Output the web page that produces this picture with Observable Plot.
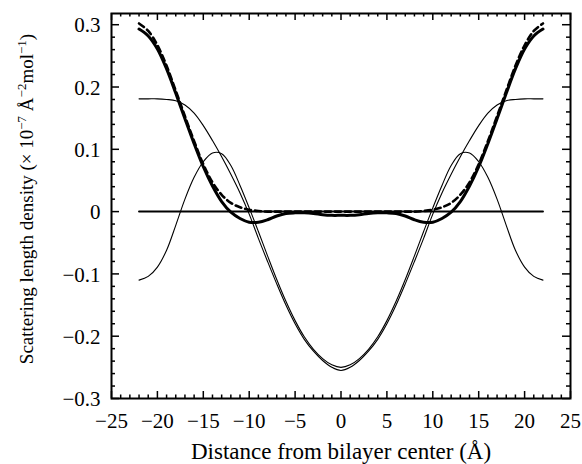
<!DOCTYPE html>
<html><head><meta charset="utf-8">
<script src="https://cdn.jsdelivr.net/npm/d3@7"></script>
<script src="https://cdn.jsdelivr.net/npm/@observablehq/plot@0.6"></script>
<style>html,body{margin:0;padding:0;background:#fff}#chart svg{display:block}</style>
</head><body><div id="chart"></div>
<script>
// ---- data ----
const distance = [-22,-21,-20,-19,-18,-17,-16,-15,-14,-13,-12,-11,-10,-9,-8,-7,-6,-5,-4,-3,-2,-1,0,
  1,2,3,4,5,6,7,8,9,10,11,12,13,14,15,16,17,18,19,20,21,22];
const sldTotal = [0.293,0.282,0.261,0.229,0.190,0.149,0.109,0.072,0.041,0.016,-0.001,-0.011,-0.017,-0.017,-0.013,-0.007,-0.003,-0.002,-0.002,-0.003,-0.005,-0.006,-0.006,
  -0.006,-0.005,-0.003,-0.002,-0.002,-0.003,-0.007,-0.013,-0.017,-0.017,-0.011,-0.001,0.016,0.041,0.072,0.109,0.149,0.190,0.229,0.261,0.282,0.293];
const sldDashed = [0.302,0.290,0.267,0.234,0.194,0.153,0.113,0.076,0.047,0.027,0.014,0.007,0.003,0.001,0,0,0,0,0,0,0,0,0,
  0,0,0,0,0,0,0,0,0.001,0.003,0.007,0.014,0.027,0.047,0.076,0.113,0.153,0.194,0.234,0.267,0.290,0.302];
const sldPlateau = [0.181,0.181,0.181,0.180,0.178,0.171,0.158,0.138,0.114,0.088,0.060,0.030,-0.004,-0.043,-0.080,-0.116,-0.150,-0.180,-0.205,-0.224,-0.239,-0.250,-0.255,
  -0.250,-0.239,-0.224,-0.205,-0.180,-0.150,-0.116,-0.080,-0.043,-0.004,0.030,0.060,0.088,0.114,0.138,0.158,0.171,0.178,0.180,0.181,0.181,0.181];
const sldWave = [-0.110,-0.104,-0.089,-0.062,-0.022,0.020,0.055,0.080,0.094,0.093,0.074,0.042,0.006,-0.032,-0.071,-0.109,-0.144,-0.175,-0.201,-0.221,-0.236,-0.246,-0.250,
  -0.246,-0.236,-0.221,-0.201,-0.175,-0.144,-0.109,-0.071,-0.032,0.006,0.042,0.074,0.093,0.094,0.080,0.055,0.020,-0.022,-0.062,-0.089,-0.104,-0.110];
const zeroLineX = [-22, 22];
const zeroLineY = [0, 0];

const xMajor = [-25,-20,-15,-10,-5,0,5,10,15,20,25];
const xTickLabels = ["\u221225","\u221220","\u221215","\u221210","\u22125","0","5","10","15","20","25"];
const xMinor = [-24,-23,-22,-21,-19,-18,-17,-16,-14,-13,-12,-11,-9,-8,-7,-6,-4,-3,-2,-1,
  1,2,3,4,6,7,8,9,11,12,13,14,16,17,18,19,21,22,23,24];
const yMajor = [-0.3,-0.2,-0.1,0,0.1,0.2,0.3];
const yTickLabels = ["\u22120.3","\u22120.2","\u22120.1","0","0.1","0.2","0.3"];
const yMinor = [-0.28,-0.26,-0.24,-0.22,-0.18,-0.16,-0.14,-0.12,-0.08,-0.06,-0.04,-0.02,
  0.02,0.04,0.06,0.08,0.12,0.14,0.16,0.18,0.22,0.24,0.26,0.28];
const xLabel = "Distance from bilayer center (\u00C5)";
const yLabelParts = [["Scattering length density (\u00D7 10", false], ["\u22127", true], [" \u00C5", false], ["\u22122", true], ["mol", false], ["\u22121", true], [")", false]];

// ---- layout ----
const W = 582, H = 464;
const mL = 111, mR = 12, mT = 13, mB = 66;
const plotW = W - mL - mR, plotH = H - mT - mB;

const rows = (ys) => distance.map((x, i) => ({x, y: ys[i]}));
const zeroRows = zeroLineX.map((x, i) => ({x, y: zeroLineY[i]}));

const svg = Plot.plot({
  width: W, height: H,
  marginLeft: mL, marginRight: mR, marginTop: mT, marginBottom: mB,
  x: {domain: [-25, 25], axis: null},
  y: {domain: [-0.3, 0.318], axis: null},
  style: {fontFamily: "'Liberation Serif', serif", background: "#fff", color: "#000"},
  marks: [
    Plot.line(zeroRows, {x: "x", y: "y", stroke: "#000", strokeWidth: 2}),
    Plot.line(rows(sldPlateau), {x: "x", y: "y", stroke: "#000", strokeWidth: 1.1, curve: "catmull-rom"}),
    Plot.line(rows(sldWave), {x: "x", y: "y", stroke: "#000", strokeWidth: 1.1, curve: "catmull-rom"}),
    Plot.line(rows(sldDashed), {x: "x", y: "y", stroke: "#000", strokeWidth: 2.6, strokeDasharray: "6,4", curve: "catmull-rom"}),
    Plot.line(rows(sldTotal), {x: "x", y: "y", stroke: "#000", strokeWidth: 3, curve: "catmull-rom"}),
    // inward ticks on all four sides
    Plot.ruleX(xMajor, {x: d => d, insetTop: plotH - 7, stroke: "#000", strokeWidth: 1.5}),
    Plot.ruleX(xMajor, {x: d => d, insetBottom: plotH - 7, stroke: "#000", strokeWidth: 1.5}),
    Plot.ruleX(xMinor, {x: d => d, insetTop: plotH - 3.5, stroke: "#000", strokeWidth: 1.5}),
    Plot.ruleX(xMinor, {x: d => d, insetBottom: plotH - 3.5, stroke: "#000", strokeWidth: 1.5}),
    Plot.ruleY(yMajor, {y: d => d, insetRight: plotW - 8, stroke: "#000", strokeWidth: 1.5}),
    Plot.ruleY(yMajor, {y: d => d, insetLeft: plotW - 8, stroke: "#000", strokeWidth: 1.5}),
    Plot.ruleY(yMinor, {y: d => d, insetRight: plotW - 4, stroke: "#000", strokeWidth: 1.5}),
    Plot.ruleY(yMinor, {y: d => d, insetLeft: plotW - 4, stroke: "#000", strokeWidth: 1.5}),
    Plot.frame({stroke: "#000", strokeWidth: 2}),
    // tick labels
    Plot.text(xMajor, {x: d => d, text: (d, i) => xTickLabels[i], frameAnchor: "bottom", textAnchor: "middle", lineAnchor: "top", dy: 15, fontSize: 21, fill: "#000"}),
    Plot.text(yMajor, {y: d => d, text: (d, i) => yTickLabels[i], frameAnchor: "left", textAnchor: "end", lineAnchor: "middle", dx: -11, dy: 1, fontSize: 21, fill: "#000"}),
    // axis titles
    Plot.text([xLabel], {text: d => d, frameAnchor: "bottom", textAnchor: "middle", lineAnchor: "bottom", dy: 60, fontSize: 23, fill: "#000"}),
    Plot.text([yLabelParts.map(p => p[0]).join("")], {text: d => d, frameAnchor: "left", textAnchor: "middle", rotate: -90, lineAnchor: "bottom", dx: -79, dy: -7, fontSize: 19, fill: "#000"})
  ]
});

// superscripts in the y title
d3.select(svg).selectAll("text").filter(function() { return this.textContent.startsWith("Scattering"); }).each(function() {
  const t = d3.select(this);
  t.text(null);
  yLabelParts.forEach(([s, sup], i) => {
    const ts = t.append("tspan").text(s);
    if (sup) ts.attr("dy", "-7").attr("font-size", "13");
    else if (i > 0 && yLabelParts[i - 1][1]) ts.attr("dy", "7");
  });
});

document.getElementById("chart").appendChild(svg);
</script>
</body></html>
